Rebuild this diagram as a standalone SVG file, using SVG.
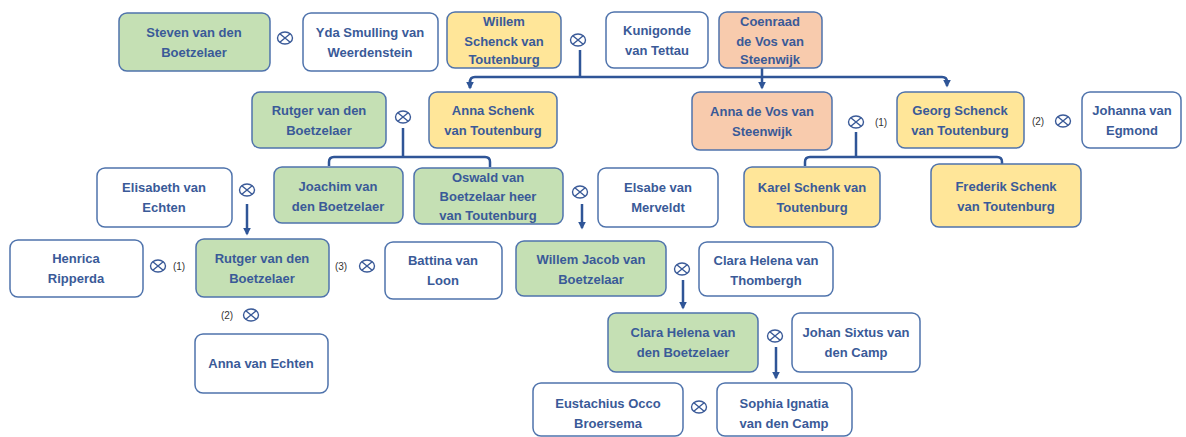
<svg xmlns="http://www.w3.org/2000/svg" width="1186" height="437" viewBox="0 0 1186 437">
<style>
.n rect{stroke:#4F73AC;stroke-width:1.5}
.w{fill:#FFFFFF}.g{fill:#C5E0B4}.y{fill:#FFE699}.o{fill:#F8CBAD}
text{font-family:"Liberation Sans",Arial,sans-serif;font-weight:bold;font-size:13px;fill:#3A5A98;text-anchor:middle;dominant-baseline:central}
.lbl{font-size:10px;font-weight:normal;fill:#333333}
.c{fill:none;stroke:#2F5597;stroke-width:2.5;stroke-linejoin:round}
.x ellipse,.x path{fill:none;stroke:#3A5A98;stroke-width:1.4}
</style>
<defs>
<marker id="ah" viewBox="0 0 10 10" refX="8" refY="5" markerWidth="3.2" markerHeight="3.2" orient="auto"><path d="M0,0L10,5L0,10z" fill="#2F5597"/></marker>
<symbol id="ox" viewBox="-8 -7 16 14" overflow="visible"><g class="x"><ellipse cx="0" cy="0" rx="7.5" ry="6"/><path d="M-5.2,-4.2L5.2,4.2M-5.2,4.2L5.2,-4.2"/></g></symbol>
</defs>

<g id="connectors">
<path class="c" d="M580,50V76"/>
<path class="c" d="M470,88V82Q470,77 475,77H942Q947,77 947,82V86" marker-end="url(#ah)"/>
<path class="c" d="M470,80V88" marker-end="url(#ah)"/>
<path class="c" d="M762,68V88" marker-end="url(#ah)"/>
<path class="c" d="M403,128V157"/>
<path class="c" d="M329,166V162Q329,157 334,157H485Q490,157 490,162V167"/>
<path class="c" d="M856,132V157"/>
<path class="c" d="M805,166V162Q805,157 810,157H997Q1002,157 1002,162V164"/>
<path class="c" d="M582,204V228" marker-end="url(#ah)"/>
<path class="c" d="M247,204V234" marker-end="url(#ah)"/>
<path class="c" d="M683,280V308" marker-end="url(#ah)"/>
<path class="c" d="M776,347V378" marker-end="url(#ah)"/>
</g>

<g id="symbols">
<use href="#ox" x="277" y="31" width="16" height="14"/>
<use href="#ox" x="570" y="33" width="16" height="14"/>
<use href="#ox" x="395" y="110" width="16" height="14"/>
<use href="#ox" x="848" y="115" width="16" height="14"/>
<use href="#ox" x="1055" y="114" width="16" height="14"/>
<use href="#ox" x="239" y="183" width="16" height="14"/>
<use href="#ox" x="572" y="185" width="16" height="14"/>
<use href="#ox" x="150" y="259" width="16" height="14"/>
<use href="#ox" x="359" y="259" width="16" height="14"/>
<use href="#ox" x="674" y="262" width="16" height="14"/>
<use href="#ox" x="243" y="308" width="16" height="14"/>
<use href="#ox" x="767" y="329" width="16" height="14"/>
<use href="#ox" x="691" y="400" width="16" height="14"/>
<text class="lbl" x="881" y="122">(1)</text>
<text class="lbl" x="1038" y="121">(2)</text>
<text class="lbl" x="179" y="266">(1)</text>
<text class="lbl" x="341" y="266">(3)</text>
<text class="lbl" x="227" y="315">(2)</text>
</g>

<g id="steven" class="n"><rect class="g" x="119" y="13" width="151" height="58" rx="8"/><text x="194" y="32">Steven van den</text><text x="194" y="52">Boetzelaer</text></g>
<g id="yda" class="n"><rect class="w" x="303" y="13" width="135" height="58" rx="8"/><text x="370" y="32">Yda Smulling van</text><text x="370" y="52">Weerdenstein</text></g>
<g id="willem" class="n"><rect class="y" x="447" y="12" width="114" height="56" rx="8"/><text x="504" y="21">Willem</text><text x="504" y="41">Schenck van</text><text x="504" y="59">Toutenburg</text></g>
<g id="kunigonde" class="n"><rect class="w" x="606" y="12" width="102" height="56" rx="8"/><text x="657" y="30">Kunigonde</text><text x="657" y="50">van Tettau</text></g>
<g id="coenraad" class="n"><rect class="o" x="719" y="12" width="103" height="56" rx="8"/><text x="770" y="21">Coenraad</text><text x="770" y="41">de Vos van</text><text x="770" y="59">Steenwijk</text></g>
<g id="rutger1" class="n"><rect class="g" x="252" y="92" width="134" height="56" rx="8"/><text x="319" y="110">Rutger van den</text><text x="319" y="130">Boetzelaer</text></g>
<g id="annaSchenk" class="n"><rect class="y" x="429" y="92" width="128" height="56" rx="8"/><text x="493" y="110">Anna Schenk</text><text x="493" y="130">van Toutenburg</text></g>
<g id="annaDeVos" class="n"><rect class="o" x="692" y="92" width="140" height="58" rx="8"/><text x="762" y="111">Anna de Vos van</text><text x="762" y="131">Steenwijk</text></g>
<g id="georg" class="n"><rect class="y" x="897" y="92" width="127" height="56" rx="8"/><text x="960" y="110">Georg Schenck</text><text x="960" y="130">van Toutenburg</text></g>
<g id="johanna" class="n"><rect class="w" x="1082" y="92" width="99" height="56" rx="8"/><text x="1132" y="110">Johanna van</text><text x="1132" y="130">Egmond</text></g>
<g id="elisabeth" class="n"><rect class="w" x="97" y="168" width="135" height="59" rx="8"/><text x="164" y="187">Elisabeth van</text><text x="164" y="207">Echten</text></g>
<g id="joachim" class="n"><rect class="g" x="274" y="167" width="129" height="56" rx="8"/><text x="338" y="186">Joachim van</text><text x="338" y="206">den Boetzelaer</text></g>
<g id="oswald" class="n"><rect class="g" x="414" y="168" width="149" height="56" rx="8"/><text x="488" y="177">Oswald van</text><text x="488" y="196">Boetzelaar heer</text><text x="488" y="215">van Toutenburg</text></g>
<g id="elsabe" class="n"><rect class="w" x="598" y="168" width="120" height="59" rx="8"/><text x="658" y="187">Elsabe van</text><text x="658" y="207">Merveldt</text></g>
<g id="karel" class="n"><rect class="y" x="744" y="167" width="136" height="60" rx="8"/><text x="812" y="187">Karel Schenk van</text><text x="812" y="207">Toutenburg</text></g>
<g id="frederik" class="n"><rect class="y" x="931" y="164" width="150" height="63" rx="8"/><text x="1006" y="186">Frederik Schenk</text><text x="1006" y="206">van Toutenburg</text></g>
<g id="henrica" class="n"><rect class="w" x="10" y="240" width="133" height="57" rx="8"/><text x="76" y="258">Henrica</text><text x="76" y="278">Ripperda</text></g>
<g id="rutger2" class="n"><rect class="g" x="196" y="239" width="133" height="58" rx="8"/><text x="262" y="258">Rutger van den</text><text x="262" y="278">Boetzelaer</text></g>
<g id="battina" class="n"><rect class="w" x="385" y="242" width="117" height="57" rx="8"/><text x="443" y="260">Battina van</text><text x="443" y="280">Loon</text></g>
<g id="willemJacob" class="n"><rect class="g" x="516" y="241" width="150" height="55" rx="8"/><text x="591" y="259">Willem Jacob van</text><text x="591" y="279">Boetzelaar</text></g>
<g id="claraThombergh" class="n"><rect class="w" x="699" y="242" width="134" height="54" rx="8"/><text x="766" y="260">Clara Helena van</text><text x="766" y="280">Thombergh</text></g>
<g id="claraBoetzelaer" class="n"><rect class="g" x="608" y="313" width="150" height="59" rx="8"/><text x="683" y="332">Clara Helena van</text><text x="683" y="352">den Boetzelaer</text></g>
<g id="johan" class="n"><rect class="w" x="792" y="313" width="128" height="59" rx="8"/><text x="856" y="332">Johan Sixtus van</text><text x="856" y="352">den Camp</text></g>
<g id="annaEchten" class="n"><rect class="w" x="195" y="334" width="133" height="59" rx="8"/><text x="261" y="363">Anna van Echten</text></g>
<g id="eustachius" class="n"><rect class="w" x="533" y="383" width="150" height="53" rx="8"/><text x="608" y="403">Eustachius Occo</text><text x="608" y="423">Broersema</text></g>
<g id="sophia" class="n"><rect class="w" x="717" y="383" width="135" height="53" rx="8"/><text x="784" y="403">Sophia Ignatia</text><text x="784" y="423">van den Camp</text></g>
</svg>
